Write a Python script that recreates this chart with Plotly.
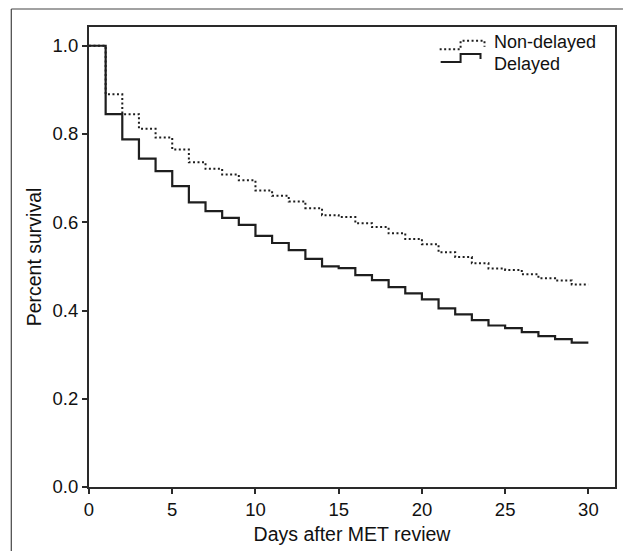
import plotly.graph_objects as go

days = list(range(0, 31))
non_delayed = [1.0, 0.890, 0.845, 0.812, 0.792, 0.765, 0.736, 0.721, 0.708, 0.695,
               0.672, 0.660, 0.647, 0.632, 0.616, 0.612, 0.598, 0.589, 0.575, 0.562,
               0.550, 0.532, 0.521, 0.507, 0.495, 0.492, 0.482, 0.473, 0.468, 0.459, 0.459]
delayed = [1.0, 0.845, 0.788, 0.744, 0.716, 0.682, 0.645, 0.625, 0.610, 0.594,
           0.569, 0.553, 0.537, 0.517, 0.500, 0.496, 0.480, 0.469, 0.453, 0.439,
           0.425, 0.405, 0.391, 0.378, 0.366, 0.360, 0.351, 0.342, 0.335, 0.327, 0.327]
series_names = ["Non-delayed", "Delayed"]
x_ticks = [0, 5, 10, 15, 20, 25, 30]
y_ticks = [0.0, 0.2, 0.4, 0.6, 0.8, 1.0]

FONT = "Liberation Sans, Arial, Helvetica, sans-serif"
LINE = "#1e1e1e"
AX = "#2a2a2a"

fig = go.Figure()
fig.add_trace(go.Scatter(x=days, y=non_delayed, mode="lines", line_shape="hv",
                         name=series_names[0],
                         line=dict(color=LINE, width=2, dash="2px,2.5px")))
fig.add_trace(go.Scatter(x=days, y=delayed, mode="lines", line_shape="hv",
                         name=series_names[1],
                         line=dict(color=LINE, width=2.2)))

# plot area pixel geometry
L, R, T, B = 89, 617, 27, 487
W, H = R - L, B - T
px = lambda v: (v - L) / W
py = lambda v: (B - v) / H

shapes = [
    # outer frame (top and left edges only; the rest lies outside the picture)
    dict(type="line", xref="paper", yref="paper", x0=px(11), x1=px(625),
         y0=py(9), y1=py(9), line=dict(color="#444", width=1.2)),
    dict(type="line", xref="paper", yref="paper", x0=px(11), x1=px(11),
         y0=py(9), y1=py(551), line=dict(color="#444", width=1.2)),
    # legend icons
    dict(type="path", xref="paper", yref="paper",
         path=f"M {px(441)},{py(49.3)} L {px(462)},{py(49.3)} L {px(462)},{py(40.7)} "
              f"L {px(486)},{py(40.7)} L {px(486)},{py(46.7)}",
         line=dict(color=LINE, width=2, dash="2px,2.5px")),
    dict(type="path", xref="paper", yref="paper",
         path=f"M {px(442)},{py(62)} L {px(462)},{py(62)} L {px(462)},{py(54)} "
              f"L {px(482)},{py(54)} L {px(482)},{py(59)}",
         line=dict(color=LINE, width=2)),
]

annotations = [
    dict(text=series_names[0], xref="paper", yref="paper", x=px(494), y=py(42.5),
         xanchor="left", yanchor="middle", showarrow=False,
         font=dict(family=FONT, size=18, color="#111")),
    dict(text=series_names[1], xref="paper", yref="paper", x=px(494), y=py(63.5),
         xanchor="left", yanchor="middle", showarrow=False,
         font=dict(family=FONT, size=18, color="#111")),
]

fig.update_layout(
    width=625, height=551,
    margin=dict(l=L, r=625 - R, t=T, b=551 - B, pad=0),
    paper_bgcolor="white", plot_bgcolor="white",
    showlegend=False,
    font=dict(family=FONT, size=18.5, color="#111"),
    shapes=shapes, annotations=annotations,
    xaxis=dict(range=[0, 31.6], tickvals=x_ticks, ticks="outside", ticklen=5,
               tickwidth=1.5, tickcolor=AX, showline=True, linecolor=AX, linewidth=2,
               mirror=True, showgrid=False, zeroline=False,
               tickfont=dict(size=18.5),
               title=dict(text="Days after MET review", standoff=8,
                          font=dict(size=19.5))),
    yaxis=dict(range=[0, 1.0425], tickvals=y_ticks, tickformat=".1f", ticks="outside",
               ticklen=5, tickwidth=1.5, tickcolor=AX, showline=True, linecolor=AX,
               linewidth=2, mirror=True, showgrid=False, zeroline=False,
               tickfont=dict(size=18.5),
               title=dict(text="Percent survival", standoff=6, font=dict(size=19.5))),
)

fig.write_html("out.html", config={"displayModeBar": False},
               post_script="document.body.style.margin='0';")
